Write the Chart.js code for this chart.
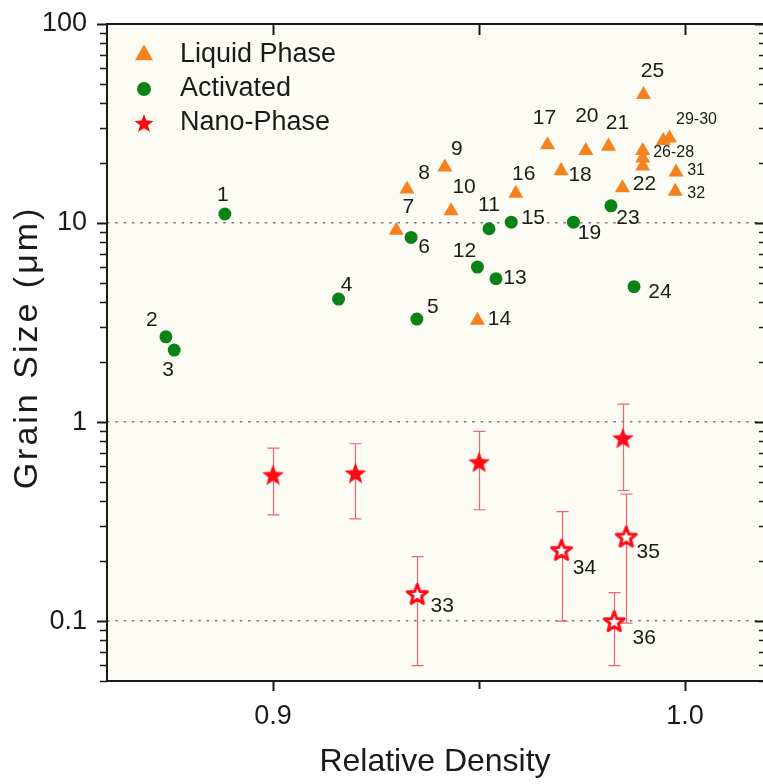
<!DOCTYPE html>
<html>
<head>
<meta charset="utf-8">
<script src="https://cdn.jsdelivr.net/npm/chart.js@4.4.0/dist/chart.umd.min.js"></script>
<style>
  html, body { margin: 0; padding: 0; background: #fff; }
  #wrap { width: 763px; height: 784px; }
</style>
</head>
<body>
<div id="wrap"><canvas id="chart" width="763" height="784"></canvas></div>
<script>
// Liquid phase sintering (triangles)
const liquidLabels  = ['7', '8', '9', '10', '14', '16', '17', '18', '20', '21', '22', '25', '', '26-28', '', '', '29-30', '31', '32'];
const liquidDensity = [0.9299, 0.9325, 0.9417, 0.9432, 0.9496, 0.9589, 0.9666, 0.9699, 0.9759, 0.9814, 0.9848, 0.9899, 0.9897, 0.9897, 0.9897, 0.9947, 0.9962, 0.9978, 0.9976];
const liquidSize    = [9.17, 14.8, 19.1, 11.5, 3.24, 14.1, 24.7, 18.3, 23.1, 24.3, 15.0, 44.1, 23.1, 21.2, 19.3, 25.9, 26.7, 18.0, 14.4];

// Activated sintering (circles)
const activatedLabels  = ['1', '2', '3', '4', '5', '6', '11', '12', '13', '15', '19', '23', '24'];
const activatedDensity = [0.8883, 0.8740, 0.8760, 0.9159, 0.9349, 0.9335, 0.9524, 0.9496, 0.9541, 0.9578, 0.9729, 0.9820, 0.9876];
const activatedSize    = [11.1, 2.68, 2.30, 4.15, 3.29, 8.47, 9.36, 6.01, 5.25, 10.1, 10.1, 12.2, 4.79];

// Nano-phase, filled stars (no labels)
const nanoDensity = [0.900, 0.920, 0.950, 0.9849];
const nanoSize    = [0.543, 0.554, 0.630, 0.831];
const nanoLow     = [0.342, 0.326, 0.3625, 0.453];
const nanoHigh    = [0.740, 0.778, 0.897, 1.23];

// Nano-phase, hollow stars 33-36
const hollowLabels  = ['33', '34', '35', '36'];
const hollowDensity = [0.935, 0.970, 0.9857, 0.9828];
const hollowSize    = [0.137, 0.228, 0.266, 0.100];
const hollowLow     = [0.0598, 0.100, 0.0977, 0.0598];
const hollowHigh    = [0.211, 0.355, 0.435, 0.139];

// axis ticks
const xTicks = [0.9, 0.95, 1.0];
const xTickLabels = ['0.9', '', '1.0'];
const yTicks = [0.1, 1, 10, 100];
const yTickLabels = ['0.1', '1', '10', '100'];

// where each number sits relative to its marker (text centre, px)
const labelOffsets = {
  '1': [-2, -19], '2': [-14, -17], '3': [-6, 20], '4': [8, -14], '5': [16, -12], '6': [13, 10],
  '11': [0, -24], '12': [-13, -16], '13': [19, -1], '15': [22, -4], '19': [16, 11], '23': [17, 12], '24': [26, 6],
  '7': [12, -23], '8': [17, -16], '9': [12, -18], '10': [13, -24], '14': [22, -1], '16': [8, -19],
  '17': [-3, -27], '18': [19, 4], '20': [1, -34], '21': [9, -23], '22': [22, -4], '25': [9, -24],
  '26-28': [31, -5], '29-30': [27, -19], '31': [20, -2], '32': [21, 2],
  '33': [25, 12], '34': [23, 18], '35': [22, 16], '36': [30, 17]
};
const smallLabels = ['26-28', '29-30', '31', '32'];

const ORANGE = '#f6821f';
const GREEN = '#0a8216';
const RED = '#ff0a14';
const FONT = "'Liberation Sans', Arial, sans-serif";

Chart.defaults.font.family = FONT;
Chart.defaults.color = '#1a1a1a';

function makeStar(R, fill, stroke, lw) {
  const s = Math.ceil(2 * R + lw + 6);
  const c = document.createElement('canvas');
  c.width = s; c.height = s;
  const g = c.getContext('2d');
  g.beginPath();
  for (let i = 0; i < 10; i++) {
    const r = i % 2 ? R * 0.42 : R;
    const a = -Math.PI / 2 + i * Math.PI / 5;
    g.lineTo(s / 2 + r * Math.cos(a), s / 2 + 1 + r * Math.sin(a));
  }
  g.closePath();
  g.fillStyle = fill;
  g.fill();
  if (lw) {
    g.lineWidth = lw;
    g.lineJoin = 'round';
    g.strokeStyle = stroke;
    g.stroke();
  }
  return c;
}

const starFilled = makeStar(11.5, RED, RED, 0);
const starHollow = makeStar(10.5, '#ffffff', RED, 3);
const starLegend = makeStar(10, RED, RED, 0);

const pts = (xs, ys) => xs.map((x, i) => ({ x: x, y: ys[i] }));

const datasets = [
  { label: 'Liquid Phase', data: pts(liquidDensity, liquidSize), pointStyle: 'triangle', pointRadius: 8.7,
    backgroundColor: ORANGE, borderWidth: 0, labels: liquidLabels },
  { label: 'Activated', data: pts(activatedDensity, activatedSize), pointStyle: 'circle', pointRadius: 6.5,
    backgroundColor: GREEN, borderWidth: 0, labels: activatedLabels },
  { label: 'Nano-Phase', data: pts(nanoDensity, nanoSize), pointStyle: starFilled, pointRadius: 11,
    backgroundColor: RED, borderWidth: 0, low: nanoLow, high: nanoHigh },
  { label: '', data: pts(hollowDensity, hollowSize), pointStyle: starHollow, pointRadius: 11,
    backgroundColor: RED, borderWidth: 0, labels: hollowLabels, low: hollowLow, high: hollowHigh }
];

const legendItems = [
  { text: 'Liquid Phase', style: 'triangle', radius: 10.4, color: ORANGE },
  { text: 'Activated', style: 'circle', radius: 7, color: GREEN },
  { text: 'Nano-Phase', style: starLegend, radius: 10, color: RED }
];

const decorPlugin = {
  id: 'decor',
  beforeDraw(chart) {
    const { ctx, chartArea: a } = chart;
    ctx.save();
    ctx.fillStyle = '#ffffff';
    ctx.fillRect(0, 0, chart.width, chart.height);
    ctx.fillStyle = '#fcfcf4';
    ctx.fillRect(a.left, a.top, a.right - a.left, a.bottom - a.top);
    ctx.restore();
  },
  beforeDatasetsDraw(chart) {
    // error bars
    const { ctx, scales: { x, y } } = chart;
    ctx.save();
    ctx.strokeStyle = 'rgba(238, 70, 90, 0.85)';
    ctx.lineWidth = 1.2;
    chart.data.datasets.forEach(ds => {
      if (!ds.low) return;
      ds.data.forEach((p, i) => {
        const px = Math.round(x.getPixelForValue(p.x)) + 0.5;
        const lo = y.getPixelForValue(ds.low[i]);
        const hi = y.getPixelForValue(ds.high[i]);
        ctx.beginPath();
        ctx.moveTo(px, lo); ctx.lineTo(px, hi);
        ctx.moveTo(px - 6, lo); ctx.lineTo(px + 6, lo);
        ctx.moveTo(px - 6, hi); ctx.lineTo(px + 6, hi);
        ctx.stroke();
      });
    });
    ctx.restore();
  },
  afterDraw(chart) {
    const { ctx, chartArea: a, scales: { x, y } } = chart;
    ctx.save();

    // y axis title, drawn here to get the letter spacing of the original
    ctx.save();
    ctx.translate(28, (a.top + a.bottom) / 2 - 5);
    ctx.rotate(-Math.PI / 2);
    ctx.fillStyle = '#1a1a1a';
    ctx.font = '34px ' + FONT;
    ctx.letterSpacing = '3px';
    ctx.textAlign = 'center';
    ctx.textBaseline = 'middle';
    ctx.fillText('Grain Size (μm)', 0, 0);
    ctx.restore();

    // point numbers
    ctx.fillStyle = '#1a1a1a';
    ctx.textAlign = 'center';
    ctx.textBaseline = 'middle';
    chart.data.datasets.forEach((ds, di) => {
      if (!ds.labels) return;
      const meta = chart.getDatasetMeta(di);
      ds.labels.forEach((t, i) => {
        if (!t) return;
        const off = labelOffsets[t] || [0, -18];
        ctx.font = (smallLabels.includes(t) ? '16px ' : '21px ') + FONT;
        ctx.fillText(t, meta.data[i].x + off[0], meta.data[i].y + off[1]);
      });
    });

    // frame
    ctx.strokeStyle = '#1a1a1a';
    ctx.lineWidth = 2;
    ctx.beginPath();
    ctx.moveTo(a.right, a.top); ctx.lineTo(a.left, a.top);
    ctx.lineTo(a.left, a.bottom); ctx.lineTo(a.right, a.bottom);
    ctx.stroke();

    // x ticks: outward at bottom, inward at top
    xTicks.forEach((v, i) => {
      const px = Math.round(x.getPixelForValue(v)) + 0.5;
      const len = xTickLabels[i] ? 10 : 8;
      ctx.beginPath();
      ctx.moveTo(px, a.bottom); ctx.lineTo(px, a.bottom + len);
      ctx.moveTo(px, a.top); ctx.lineTo(px, a.top + 11);
      ctx.stroke();
    });

    // y ticks: outward on left, inward on right, minor ticks for log decades
    for (let d = 0.01; d <= 100; d *= 10) {
      for (let k = 1; k <= 9; k++) {
        const v = k * d;
        if (v < y.min * 0.999 || v > y.max * 1.001) continue;
        const py = Math.round(y.getPixelForValue(v)) + 0.5;
        const major = k === 1;
        ctx.lineWidth = major ? 2 : 1.6;
        ctx.beginPath();
        ctx.moveTo(a.left - (major ? 10 : 7), py); ctx.lineTo(a.left, py);
        ctx.moveTo(a.right - (major ? 8 : 4), py); ctx.lineTo(a.right, py);
        ctx.stroke();
      }
    }

    // legend
    legendItems.forEach((it, i) => {
      const cy = 55 + i * 34;
      ctx.fillStyle = it.color;
      Chart.helpers.drawPoint(ctx, { pointStyle: it.style, radius: it.radius, rotation: 0, borderWidth: 0 }, 144, cy);
      ctx.fillStyle = '#1a1a1a';
      ctx.textAlign = 'left';
      ctx.textBaseline = 'middle';
      ctx.font = '27px ' + FONT;
      ctx.fillText(it.text, 180, cy);
    });
    ctx.restore();
  }
};

new Chart(document.getElementById('chart'), {
  type: 'scatter',
  data: { datasets: datasets },
  options: {
    responsive: false,
    animation: false,
    events: [],
    layout: { autoPadding: false, padding: { top: 24, right: 0, left: 0, bottom: 0 } },
    plugins: { legend: { display: false }, tooltip: { enabled: false } },
    scales: {
      x: {
        type: 'linear',
        min: 0.8597,
        max: 1.0189,
        afterFit: s => { s.height = 103; s.paddingLeft = 0; s.paddingRight = 0; },
        afterBuildTicks: s => { s.ticks = xTicks.map(v => ({ value: v })); },
        ticks: {
          autoSkip: false,
          maxRotation: 0,
          padding: 11,
          font: { size: 27 },
          color: '#1a1a1a',
          callback: (v) => xTickLabels[xTicks.findIndex(t => Math.abs(t - v) < 1e-6)] ?? ''
        },
        grid: { display: false },
        border: { display: false },
        title: { display: true, text: 'Relative Density', font: { size: 32 }, color: '#1a1a1a', padding: { top: 0, bottom: 3 } }
      },
      y: {
        type: 'logarithmic',
        min: 0.05,
        max: 100,
        afterFit: s => { s.width = 107; s.paddingTop = 0; s.paddingBottom = 0; },
        afterBuildTicks: s => { s.ticks = yTicks.map(v => ({ value: v })); },
        ticks: {
          autoSkip: false,
          padding: 20,
          font: { size: 27 },
          color: '#1a1a1a',
          callback: (v) => yTickLabels[yTicks.findIndex(t => Math.abs(t - v) / t < 1e-6)] ?? ''
        },
        grid: {
          drawTicks: false,
          lineWidth: 1.6,
          color: c => (c.tick && c.tick.value < 50 ? '#7a7a7a' : 'rgba(0,0,0,0)')
        },
        border: { display: false, dash: [2.5, 5.8] },
        title: { display: false }
      }
    }
  },
  plugins: [decorPlugin]
});
</script>
</body>
</html>
